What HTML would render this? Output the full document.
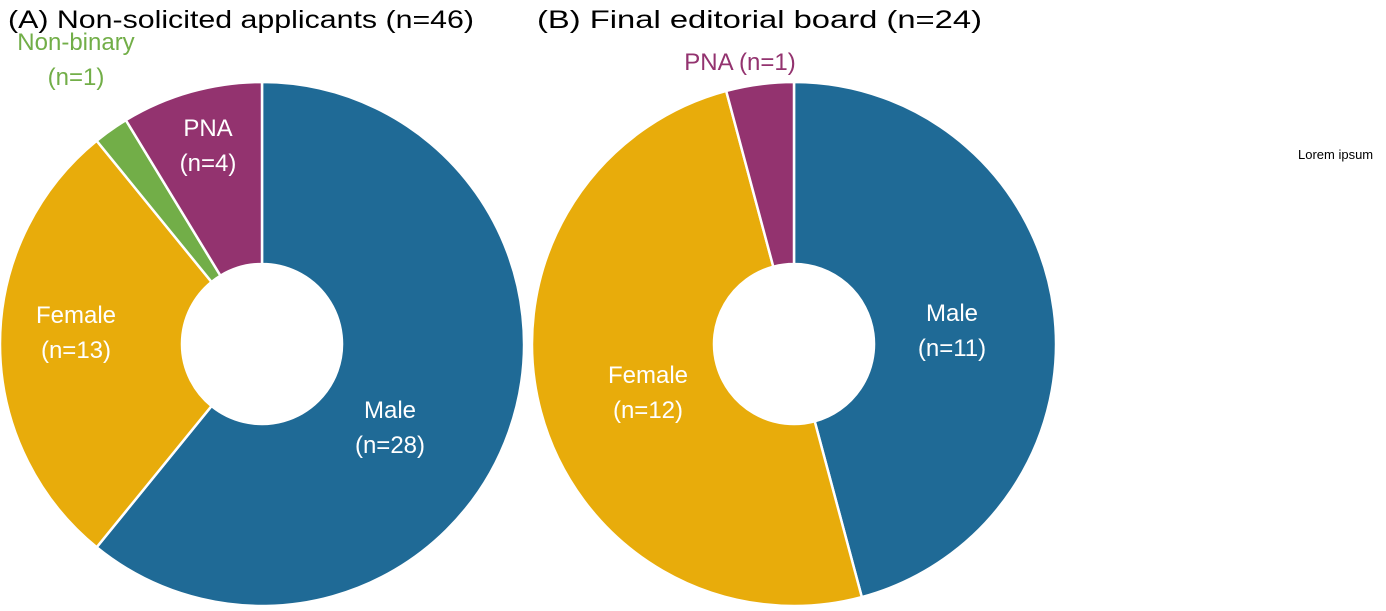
<!DOCTYPE html>
<html><head><meta charset="utf-8"><style>
body{margin:0;background:#fff;width:1386px;height:606px;overflow:hidden;font-family:"Liberation Sans",Arial,sans-serif}
</style></head><body>
<svg id="chart" width="1386" height="606" xmlns="http://www.w3.org/2000/svg" font-family="Liberation Sans, Arial, sans-serif">
<text x="8" y="28" font-size="25" textLength="466" lengthAdjust="spacingAndGlyphs" fill="#000">(A)  Non-solicited applicants (n=46)</text>
<text x="537" y="28" font-size="25" textLength="445" lengthAdjust="spacingAndGlyphs" fill="#000">(B)  Final editorial board (n=24)</text>
<text x="1298" y="159" font-size="13" fill="#000">Lorem ipsum</text>
<g id="ga"></g><g id="gb"></g>
</svg>
<script>
const categories=["Male","Female","Non-binary","PNA"];
const colors=["#1F6A96","#E8AC0B","#72AE48","#93336F"];
const valuesA=[28,13,1,4];
const valuesB=[11,12,0,1];
const NS="http://www.w3.org/2000/svg";
function pt(cx,cy,r,a){return [cx+r*Math.sin(a),cy-r*Math.cos(a)];}
function donut(g,cx,cy,R,r,vals,id){
  const tot=vals.reduce((s,v)=>s+v,0);let a=0;
  vals.forEach((v,i)=>{
    if(!v)return;
    const a2=a+v/tot*2*Math.PI;
    const [x1,y1]=pt(cx,cy,R,a),[x2,y2]=pt(cx,cy,R,a2),[x3,y3]=pt(cx,cy,r,a2),[x4,y4]=pt(cx,cy,r,a);
    const lg=a2-a>Math.PI?1:0;
    const p=document.createElementNS(NS,"path");
    p.setAttribute("d",`M${x1},${y1}A${R},${R} 0 ${lg} 1 ${x2},${y2}L${x3},${y3}A${r},${r} 0 ${lg} 0 ${x4},${y4}Z`);
    p.setAttribute("fill",colors[i]);p.setAttribute("stroke","#fff");p.setAttribute("stroke-width","2.5");
    
    
    g.appendChild(p);
    a=a2;
  });
}
function label(g,x,y,lines,col,name){
  const t=document.createElementNS(NS,"text");
  t.setAttribute("x",x);t.setAttribute("y",y);t.setAttribute("font-size","24");t.setAttribute("fill",col);t.setAttribute("text-anchor","middle");
  lines.forEach((l,i)=>{const s=document.createElementNS(NS,"tspan");s.setAttribute("x",x);s.setAttribute("dy",i?35:0);s.textContent=l;t.appendChild(s);});
  
  
  g.appendChild(t);
}
const ga=document.getElementById("ga"),gb=document.getElementById("gb");
donut(ga,262,344,262,80,valuesA,"a");
donut(gb,794,344,262,80,valuesB,"b");
label(ga,390,418,["Male","(n="+valuesA[0]+")"],"#fff","label-a-male");
label(ga,76,323,["Female","(n="+valuesA[1]+")"],"#fff","label-a-female");
label(ga,208,136,["PNA","(n="+valuesA[3]+")"],"#fff","label-a-pna");
label(ga,76,50,["Non-binary","(n="+valuesA[2]+")"],"#72AE48","label-a-nonbinary");
label(gb,952,321,["Male","(n="+valuesB[0]+")"],"#fff","label-b-male");
label(gb,648,383,["Female","(n="+valuesB[1]+")"],"#fff","label-b-female");
label(gb,740,70,["PNA (n="+valuesB[3]+")"],"#93336F","label-b-pna");
</script>
</body></html>
